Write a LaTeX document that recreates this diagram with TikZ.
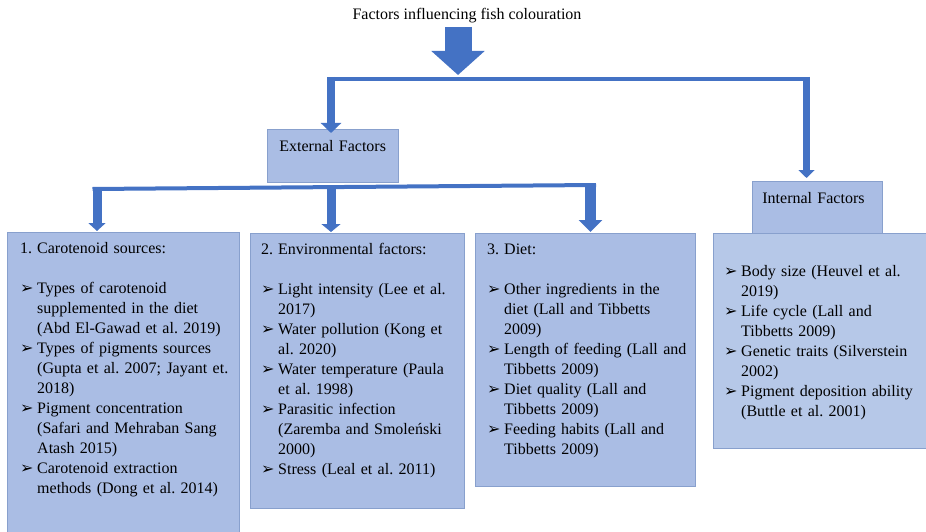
\documentclass[tikz,border=0pt]{standalone}
\usepackage{fontspec}
\setmainfont{Liberation Serif}
\newfontfamily\bulletfont{DejaVu Sans}
\usetikzlibrary{arrows.meta}

\definecolor{arrowblue}{RGB}{68,114,196}
\definecolor{boxfill}{RGB}{170,189,228}
\definecolor{listfill}{RGB}{182,200,232}
\definecolor{boxline}{RGB}{136,160,205}

\newcommand{\boxfont}{\fontsize{16pt}{20pt}\selectfont\frenchspacing}
\newcommand{\fishitem}[1]{\par\hangindent=17pt\hangafter=1\noindent
  \makebox[17pt][l]{\fontsize{16pt}{20pt}\bulletfont ➢}#1}
\newcommand{\fishhead}[2]{\noindent\strut\makebox[17pt][l]{#1}#2\par\vspace{20pt}}

\tikzstyle{factorbox} = [rectangle, draw=boxline, fill=boxfill, line width=0.8pt
                        , inner sep=0pt, anchor=north west]
\tikzstyle{headbox}   = [factorbox, font=\boxfont, align=left
                        , text height=22pt, text depth=31pt, inner ysep=0pt]
\tikzstyle{boxlabel}  = [anchor=north west, inner sep=0pt, text width=222pt
                        , align=left, font=\boxfont]
\tikzstyle{barline}   = [draw=arrowblue, line width=4pt]
\tikzset{blockarrow/.style n args={3}{draw=arrowblue, line width=#1
                        , -{Triangle[width=#2, length=#3]}}}

\begin{document}
\begin{tikzpicture}[x=1pt, y=-1pt]
\useasboundingbox (0,0) rectangle (926,532);
\clip (0,0) rectangle (926,532);

%% Title
\node [font=\boxfont, inner sep=0pt] (Title-Node) at (467,16) {Factors influencing fish colouration};

%% External / internal heads
\node [headbox, text width=107pt, inner xsep=12pt] (Ext-Box) at (267,129) {External Factors};
\node [headbox, text width=110pt, inner xsep=10pt] (Int-Box) at (752,181) {Internal Factors};

%% Lower boxes
\node [factorbox, minimum width=232pt, minimum height=310pt] (Carot-Box) at (7,232) {};
\node [factorbox, minimum width=214pt, minimum height=275pt] (Env-Box) at (250,233) {};
\node [factorbox, minimum width=220pt, minimum height=253pt] (Diet-Box) at (475,233) {};
\node [factorbox, fill=listfill, minimum width=222pt, minimum height=215pt] (IntList-Box) at (713,233) {};

\node [boxlabel] (Carot-Text) at ([shift={(13pt,-7pt)}]Carot-Box.north west) {%
  \fishhead{1.}{Carotenoid sources:}
  \fishitem{Types of carotenoid\newline supplemented in the diet\newline (Abd El-Gawad et al. 2019)}
  \fishitem{Types of pigments sources\newline (Gupta et al. 2007; Jayant et.\newline 2018)}
  \fishitem{Pigment concentration\newline (Safari and Mehraban Sang\newline Atash 2015)}
  \fishitem{Carotenoid extraction\newline methods (Dong et al. 2014)}\par};

\node [boxlabel] (Env-Text) at ([shift={(11pt,-7pt)}]Env-Box.north west) {%
  \fishhead{2.}{Environmental factors:}
  \fishitem{Light intensity (Lee et al.\newline 2017)}
  \fishitem{Water pollution (Kong et\newline al. 2020)}
  \fishitem{Water temperature (Paula\newline et al. 1998)}
  \fishitem{Parasitic infection\newline (Zaremba and Smoleński\newline 2000)}
  \fishitem{Stress (Leal et al. 2011)}\par};

\node [boxlabel] (Diet-Text) at ([shift={(12pt,-7pt)}]Diet-Box.north west) {%
  \fishhead{3.}{Diet:}
  \fishitem{Other ingredients in the\newline diet (Lall and Tibbetts\newline 2009)}
  \fishitem{Length of feeding (Lall and\newline Tibbetts 2009)}
  \fishitem{Diet quality (Lall and\newline Tibbetts 2009)}
  \fishitem{Feeding habits (Lall and\newline Tibbetts 2009)}\par};

\node [boxlabel] (IntList-Text) at ([shift={(11pt,-9pt)}]IntList-Box.north west) {%
  \noindent\strut\par
  \fishitem{Body size (Heuvel et al.\newline 2019)}
  \fishitem{Life cycle (Lall and\newline Tibbetts 2009)}
  \fishitem{Genetic traits (Silverstein\newline 2002)}
  \fishitem{Pigment deposition ability\newline (Buttle et al. 2001)}\par};

%% Connectors
\coordinate (Main-Top) at (458,27);
\coordinate (Main-Tip) at (458,75);
\coordinate (Top-L) at (331,79);
\coordinate (Top-R) at (806.5,79);
\coordinate (Low-L) at (97,189);
\coordinate (Low-M) at (331,188);
\coordinate (Low-R) at (590.5,185);

\draw [barline] ([xshift=-4pt]Top-L) -- ([xshift=3.5pt]Top-R);
\draw [barline] ([xshift=-4.5pt]Low-L) -- ([xshift=5.5pt]Low-R);

\draw [blockarrow={27pt}{52pt}{24pt}] (Main-Top) -- (Main-Tip);
\draw [blockarrow={8pt}{20pt}{10pt}] ([yshift=2pt]Top-L) -- ([yshift=-4pt]Top-L |- Ext-Box.north);
\draw [blockarrow={7pt}{16pt}{8pt}] ([yshift=2pt]Top-R) -- ([yshift=3pt]Top-R |- Int-Box.north);
\draw [blockarrow={9pt}{17pt}{8pt}] ([yshift=2pt]Low-L) -- ([yshift=1pt]Low-L |- Carot-Box.north);
\draw [blockarrow={9pt}{19pt}{8pt}] ([yshift=2pt]Low-M) -- ([yshift=1pt]Low-M |- Env-Box.north);
\draw [blockarrow={11pt}{23pt}{12pt}] ([yshift=2pt]Low-R) -- ([yshift=1pt]Low-R |- Diet-Box.north);

\end{tikzpicture}
\end{document}
